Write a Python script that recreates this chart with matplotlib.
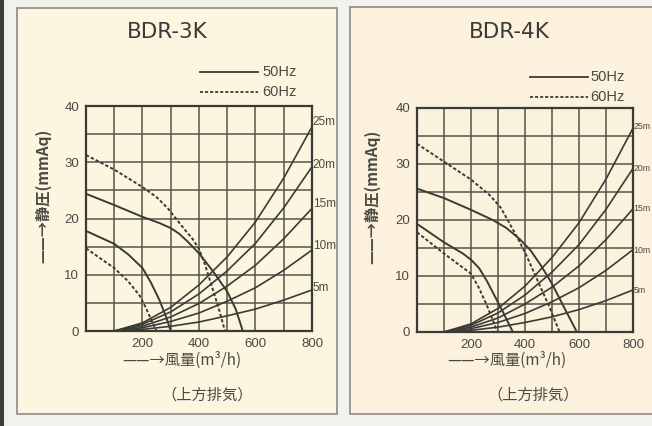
import matplotlib
matplotlib.use('Agg')
import matplotlib.pyplot as plt
from matplotlib.patches import Rectangle
from matplotlib.transforms import blended_transform_factory

plt.rcParams['font.family'] = ['Noto Sans CJK JP', 'DejaVu Sans']
NARROW = ['Liberation Sans Narrow', 'Liberation Sans', 'DejaVu Sans']

# BDR-3K fan curves (x = 風量 m3/h, y = 静圧 mmAq)
k3_50_hi_x = [0, 100, 200, 260, 300, 330, 360, 400, 450, 500, 530, 555]
k3_50_hi_y = [24.4, 22.4, 20.3, 19.2, 18.3, 17.3, 15.9, 13.8, 10.6, 7.0, 3.9, 0]
k3_50_lo_x = [0, 100, 150, 200, 230, 260, 285, 300]
k3_50_lo_y = [17.8, 15.5, 13.6, 11.2, 8.6, 5.5, 2.3, 0]
k3_60_hi_x = [0, 100, 200, 250, 290, 320, 350, 380, 400, 420, 445, 470, 492]
k3_60_hi_y = [31.3, 28.7, 25.6, 23.8, 21.8, 19.9, 18.0, 16.2, 14.6, 12.0, 8.0, 4.0, 0]
k3_60_lo_x = [0, 100, 150, 190, 215, 235, 250]
k3_60_lo_y = [14.7, 11.2, 8.8, 6.3, 3.8, 1.5, 0]

# BDR-4K fan curves
k4_50_hi_x = [0, 100, 200, 280, 330, 380, 420, 460, 500, 550, 592]
k4_50_hi_y = [25.6, 23.9, 21.8, 20.0, 18.6, 16.6, 14.6, 11.8, 8.6, 3.9, 0]
k4_50_lo_x = [0, 100, 170, 200, 230, 260, 290, 320, 355]
k4_50_lo_y = [19.3, 16.0, 14.0, 12.9, 11.4, 9.0, 6.2, 3.4, 0]
k4_60_hi_x = [0, 100, 200, 270, 310, 340, 370, 400, 450, 490, 528]
k4_60_hi_y = [33.6, 30.4, 27.2, 24.4, 22.2, 19.6, 17.0, 14.2, 8.8, 4.5, 0]
k4_60_lo_x = [0, 100, 200, 230, 260, 285, 298]
k4_60_lo_y = [17.8, 14.0, 10.4, 7.8, 4.6, 1.6, 0]

# duct resistance curves (25m .. 5m)
duct_x = [100, 200, 300, 400, 500, 600, 700, 800]
duct_names = ['25m', '20m', '15m', '10m', '5m']
k3_duct = [
    [0, 1.45, 4.2, 8.2, 13.2, 19.4, 27.2, 36.3],
    [0, 1.2, 3.4, 6.6, 10.7, 15.6, 21.9, 29.2],
    [0, 0.87, 2.5, 4.9, 8.0, 11.7, 16.4, 21.8],
    [0, 0.58, 1.7, 3.2, 5.3, 7.7, 10.8, 14.4],
    [0, 0.29, 0.84, 1.6, 2.7, 3.9, 5.5, 7.3],
]
k4_duct = [
    [0, 1.45, 4.2, 8.2, 13.3, 19.5, 27.3, 36.4],
    [0, 1.2, 3.4, 6.6, 10.7, 15.6, 21.9, 29.2],
    [0, 0.88, 2.5, 5.0, 8.0, 11.8, 16.5, 22.0],
    [0, 0.59, 1.7, 3.3, 5.4, 7.9, 11.0, 14.7],
    [0, 0.3, 0.86, 1.7, 2.7, 4.0, 5.6, 7.5],
]
k3_label_y = [37.2, 29.6, 22.6, 15.2, 7.6]
k4_label_y = [36.6, 29.2, 22.0, 14.6, 7.4]

x_ticks = list(range(0, 801, 100))
x_labels = ['', '', '200', '', '400', '', '600', '', '800']
y_ticks = list(range(0, 41, 5))
y_labels = ['0', '', '10', '', '20', '', '30', '', '40']

INK = '#3b3b35'
TXT = '#4a4a44'
DASH = (0, (1.7, 1.1))

fig = plt.figure(figsize=(6.52, 4.26), dpi=100)
fig.patch.set_facecolor('#f2f1ec')

# side strip and the two cream panels
fig.add_artist(Rectangle((0, 0), 0.006, 1, transform=fig.transFigure,
                         facecolor='#3c3c3a', edgecolor='none', zorder=-5))
fig.add_artist(Rectangle((0.026, 0.028), 0.491, 0.953, transform=fig.transFigure,
                         facecolor='#fcf6e1', edgecolor='#8c8c86', lw=1.2, zorder=-5))
fig.add_artist(Rectangle((0.537, 0.028), 0.48, 0.956, transform=fig.transFigure,
                         facecolor='#fbf1dc', edgecolor='#8c8c86', lw=1.2, zorder=-5))

charts = [
    dict(title='BDR-3K', rect=[0.1319, 0.223, 0.3466, 0.528], face='#fcf6e1',
         fan=[(k3_50_hi_x, k3_50_hi_y, '-'), (k3_50_lo_x, k3_50_lo_y, '-'),
              (k3_60_hi_x, k3_60_hi_y, DASH), (k3_60_lo_x, k3_60_lo_y, DASH)],
         duct=k3_duct, label_y=k3_label_y, label_size=8.5, label_x=1.004,
         title_pos=(0.358, 1.33), leg=(0.504, 0.761, 1.151, 1.062, 0.779),
         xlab=(0.425, -0.129), xlab2=(0.535, -0.284), ylab=(-0.19, 0.6)),
    dict(title='BDR-4K', rect=[0.6396, 0.2207, 0.3313, 0.526], face='#fbf2de',
         fan=[(k4_50_hi_x, k4_50_hi_y, '-'), (k4_50_lo_x, k4_50_lo_y, '-'),
              (k4_60_hi_x, k4_60_hi_y, DASH), (k4_60_lo_x, k4_60_lo_y, DASH)],
         duct=k4_duct, label_y=k4_label_y, label_size=6.3, label_x=1.003,
         title_pos=(0.426, 1.339), leg=(0.523, 0.792, 1.138, 1.049, 0.801),
         xlab=(0.417, -0.125), xlab2=(0.537, -0.281), ylab=(-0.208, 0.603)),
]

for c in charts:
    ax = fig.add_axes(c['rect'])
    ax.set_facecolor(c['face'])
    ax.set_xlim(0, 800)
    ax.set_ylim(0, 40)
    ax.set_xticks(x_ticks)
    ax.set_xticklabels(x_labels, fontfamily=NARROW, fontsize=9.5)
    ax.set_yticks(y_ticks)
    ax.set_yticklabels(y_labels, fontfamily=NARROW, fontsize=9.5)
    ax.tick_params(length=0, colors=TXT, pad=5)
    ax.grid(True, color='#55554c', lw=1.1)
    ax.set_axisbelow(True)
    for s in ax.spines.values():
        s.set_color(INK)
        s.set_linewidth(1.6)

    for xs, ys, ls in c['fan']:
        ax.plot(xs, ys, color=INK, lw=1.4, linestyle=ls)
    for ys in c['duct']:
        ax.plot(duct_x, ys, color=INK, lw=1.2)

    tr = blended_transform_factory(ax.transAxes, ax.transData)
    for name, ly in zip(duct_names, c['label_y']):
        ax.text(c['label_x'], ly, name, transform=tr, fontsize=c['label_size'],
                fontfamily=NARROW, color=TXT, va='center', ha='left', clip_on=False)

    tx, ty = c['title_pos']
    ax.text(tx, ty, c['title'], transform=ax.transAxes, fontsize=15.5,
            fontfamily='DejaVu Sans', color=INK, ha='center', va='center')

    x0, x1, y50, y60, xt = c['leg']
    ax.plot([x0, x1], [y50, y50], transform=ax.transAxes, color=INK, lw=1.3, clip_on=False)
    ax.plot([x0, x1], [y60, y60], transform=ax.transAxes, color=INK, lw=1.3,
            linestyle=DASH, clip_on=False)
    ax.text(xt, y50, '50Hz', transform=ax.transAxes, fontsize=10.5, fontfamily=NARROW,
            color=TXT, va='center', ha='left')
    ax.text(xt, y60, '60Hz', transform=ax.transAxes, fontsize=10.5, fontfamily=NARROW,
            color=TXT, va='center', ha='left')

    ax.text(*c['xlab'], '——→風量(m³/h)', transform=ax.transAxes, fontsize=11,
            color=TXT, ha='center', va='center')
    ax.text(*c['xlab2'], '（上方排気）', transform=ax.transAxes, fontsize=11,
            color=TXT, ha='center', va='center')
    ax.text(*c['ylab'], '——→静圧(mmAq)', transform=ax.transAxes, fontsize=11,
            color=TXT, ha='center', va='center', rotation=90, fontweight='bold')

fig.savefig('out.png', dpi=100, facecolor=fig.get_facecolor())
